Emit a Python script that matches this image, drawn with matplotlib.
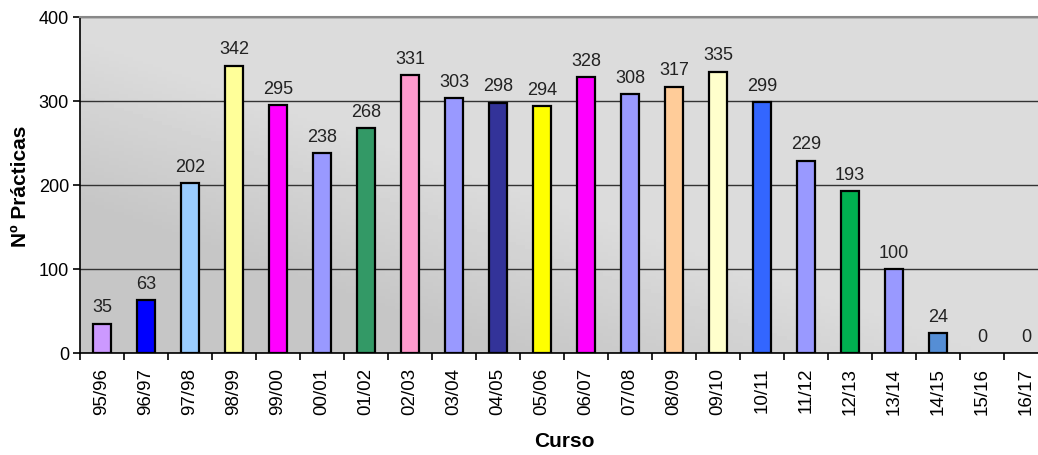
import numpy as np
import matplotlib.pyplot as plt

cursos = ['95/96', '96/97', '97/98', '98/99', '99/00', '00/01', '01/02', '02/03',
          '03/04', '04/05', '05/06', '06/07', '07/08', '08/09', '09/10', '10/11',
          '11/12', '12/13', '13/14', '14/15', '15/16', '16/17']
practicas = [35, 63, 202, 342, 295, 238, 268, 331, 303, 298, 294, 328, 308, 317,
             335, 299, 229, 193, 100, 24, 0, 0]
colores = ['#cc99ff', '#0000ff', '#99ccff', '#ffff99', '#ff00ff', '#9999ff',
           '#339966', '#ff99cc', '#9999ff', '#333399', '#ffff00', '#ff00ff',
           '#9999ff', '#ffcc99', '#ffffcc', '#3366ff', '#9999ff', '#00b050',
           '#9999ff', '#558ed5', '#9999ff', '#9999ff']


def main():
    plt.rcParams['font.family'] = ['Liberation Sans', 'DejaVu Sans']
    fig = plt.figure(figsize=(10.38, 4.56), dpi=100)
    ax = fig.add_axes([80 / 1038, 1 - 354 / 456, 968 / 1038, 336 / 456])

    # gray gradient background, darker at bottom left
    xx, yy = np.meshgrid(np.linspace(0, 1, 200), np.linspace(0, 1, 100))
    t = np.clip((xx + yy - 0.45) / 0.5, 0, 1)
    grad = (198 + 22 * t) / 255
    ax.imshow(grad, cmap='gray', vmin=0, vmax=1, origin='lower',
              extent=[0, 1, 0, 1], transform=ax.transAxes, aspect='auto', zorder=0)

    x = np.arange(len(cursos))
    lw = [1.6 if v > 0 else 0 for v in practicas]
    ax.bar(x, practicas, width=0.41, color=colores, edgecolor='black',
           linewidth=lw, zorder=3)
    for xi, v in zip(x, practicas):
        ax.annotate(str(v), (xi, v), xytext=(0, 6), textcoords='offset points',
                    ha='center', va='bottom', fontsize=13, color='#222222')

    ax.set_xlim(-0.5, len(cursos) - 0.5)
    ax.set_ylim(0, 400)
    ax.set_yticks(range(0, 401, 100))
    ax.yaxis.grid(True, color='#333333', linewidth=1.0, zorder=1)
    ax.set_axisbelow(True)
    ax.set_xticks(x)
    ax.set_xticklabels(cursos, rotation=90, fontsize=13.5)
    ax.set_xticks(np.arange(-0.5, len(cursos), 1), minor=True)
    ax.tick_params(axis='x', which='major', length=0, pad=10)
    ax.tick_params(axis='x', which='minor', length=5, width=1.2)
    ax.tick_params(axis='y', length=5, width=1.2, labelsize=13, pad=3)

    ax.spines['top'].set_color('#888888')
    ax.spines['top'].set_linewidth(1.5)
    ax.spines['right'].set_visible(False)
    ax.spines['left'].set_linewidth(1.2)
    ax.spines['bottom'].set_linewidth(1.2)

    ax.set_ylabel('Nº Prácticas', fontsize=15, fontweight='bold', labelpad=6)
    ax.set_xlabel('Curso', fontsize=15, fontweight='bold', labelpad=12)

    fig.savefig('out.png', dpi=100)


if __name__ == '__main__':
    main()
